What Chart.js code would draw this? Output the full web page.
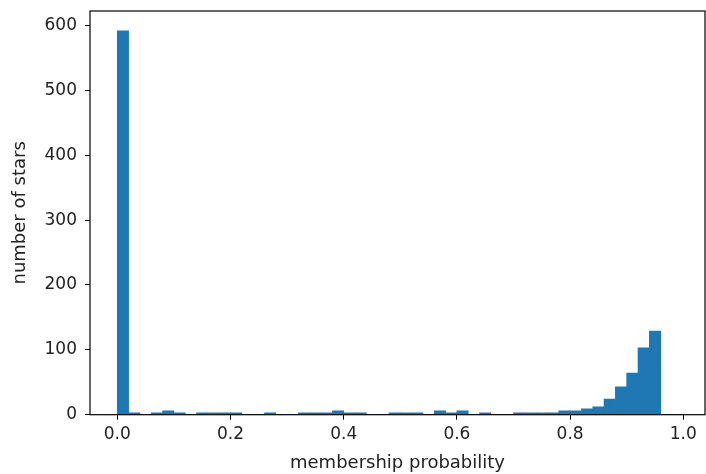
<!DOCTYPE html>
<html>
<head>
<meta charset="utf-8">
<script src="https://cdn.jsdelivr.net/npm/chart.js@4/dist/chart.umd.min.js"></script>
<style>
html,body{margin:0;padding:0;background:#fff;}
#wrap{width:706px;height:474px;position:relative;}
</style>
</head>
<body>
<div id="wrap"><canvas id="c" width="706" height="474"></canvas></div>
<script>
// Histogram bin edges (membership probability)
const binEdges = [0.00,0.02,0.04,0.06,0.08,0.10,0.12,0.14,0.16,0.18,
                  0.20,0.22,0.24,0.26,0.28,0.30,0.32,0.34,0.36,0.38,
                  0.40,0.42,0.44,0.46,0.48,0.50,0.52,0.54,0.56,0.58,
                  0.60,0.62,0.64,0.66,0.68,0.70,0.72,0.74,0.76,0.78,
                  0.80,0.82,0.84,0.86,0.88,0.90,0.92,0.94,0.96,0.98,1.00];
// Number of stars per bin
const counts = [592,3,0,3,6,3,0,3,3,3,
                3,0,0,3,0,0,3,3,3,6,
                3,3,0,0,3,3,3,0,6,3,
                6,0,3,0,0,3,3,3,3,6,
                6,9,12,24,43,64,103,129,0,0];
const xTickValues = [0.0,0.2,0.4,0.6,0.8,1.0];
const yTickValues = [0,100,200,300,400,500,600];
const xLabel = 'membership probability';
const yLabel = 'number of stars';

const barData = counts.map((c,i)=>({x:(binEdges[i]+binEdges[i+1])/2, y:c}));

const textColor = '#222';
const tickFont = {family:'"DejaVu Sans", sans-serif', size:17};
const titleFont = {family:'"DejaVu Sans", sans-serif', size:18};

const framePlugin = {
  id:'frame',
  afterDatasetsDraw(chart){
    const {ctx, chartArea:a} = chart;
    ctx.save();
    ctx.strokeStyle = '#000';
    ctx.lineWidth = 1.2;
    ctx.strokeRect(a.left, a.top, a.right - a.left, a.bottom - a.top);
    ctx.restore();
  }
};

new Chart(document.getElementById('c'), {
  type:'bar',
  data:{
    datasets:[{
      data: barData,
      backgroundColor:'#1f77b4',
      borderWidth:0,
      barPercentage:1.0,
      categoryPercentage:1.0
    }]
  },
  options:{
    responsive:false,
    animation:false,
    devicePixelRatio:1,
    layout:{padding:{top:11,right:1,left:0,bottom:0}},
    plugins:{legend:{display:false}, tooltip:{enabled:false}},
    scales:{
      x:{
        type:'linear',
        offset:false,
        min:-0.04823,
        max:1.03834,
        afterBuildTicks:s=>{ s.ticks = xTickValues.map(v=>({value:v})); },
        afterFit:s=>{ s.height = 59.3; s.paddingLeft = 0; s.paddingRight = 0; },
        grid:{offset:false, drawOnChartArea:false, drawTicks:true, tickLength:5, tickColor:'#000', tickWidth:1},
        border:{display:false},
        ticks:{color:textColor, font:tickFont, padding:5, maxRotation:0, autoSkip:false,
               callback:v=>Number(v).toFixed(1)},
        title:{display:true, text:xLabel, color:textColor, font:titleFont, padding:{top:0,bottom:0}}
      },
      y:{
        type:'linear',
        min:0,
        max:622.5,
        afterBuildTicks:s=>{ s.ticks = yTickValues.map(v=>({value:v})); },
        afterFit:s=>{ s.width = 90; s.paddingTop = 0; s.paddingBottom = 0; },
        grid:{drawOnChartArea:false, drawTicks:true, tickLength:5, tickColor:'#000', tickWidth:1},
        border:{display:false},
        ticks:{color:textColor, font:tickFont, padding:8, autoSkip:false,
               callback:v=>String(v)},
        title:{display:true, text:yLabel, color:textColor, font:titleFont, padding:{top:10,bottom:0}}
      }
    }
  },
  plugins:[framePlugin]
});
</script>
</body>
</html>
